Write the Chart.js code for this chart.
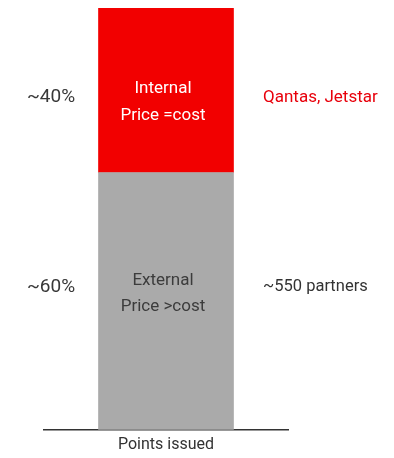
<!DOCTYPE html>
<html>
<head>
<meta charset="utf-8">
<script src="https://cdn.jsdelivr.net/npm/chart.js@4.4.0/dist/chart.umd.min.js"></script>
<style>
  html, body { margin: 0; padding: 0; background: #fff; }
  #wrap { width: 394px; height: 458px; position: relative; }
</style>
</head>
<body>
<div id="wrap"><canvas id="pointsChart"></canvas></div>
<script>
// Share of points issued
const categories = ['Points issued'];
const segmentNames = ['External', 'Internal'];
const externalShare = [61];
const internalShare = [39];
const shareLabels = ['~60%', '~40%'];
const innerLabels = [['External', 'Price >cost'], ['Internal', 'Price =cost']];
const partnerLabels = ['~550 partners', 'Qantas, Jetstar'];

const FONT = 'Roboto, "Noto Sans", sans-serif';

// Draws the text beside and inside each segment
const segmentText = {
    id: 'segmentText',
    afterDatasetsDraw(chart) {
        const ctx = chart.ctx;
        const styles = [
            { inner: '#3c3c3c', side: '#333333', innerDy: [-20, 6], sideDy: -14 },
            { inner: '#ffffff', side: '#e8000b', innerDy: [-2, 25], sideDy: 7 }
        ];
        ctx.save();
        ctx.textBaseline = 'middle';
        chart.data.datasets.forEach(function(ds, i) {
            const bar = chart.getDatasetMeta(i).data[0];
            const midY = (bar.y + bar.base) / 2;
            const s = styles[i];
            // share on the left
            ctx.font = '19px ' + FONT;
            ctx.fillStyle = '#383838';
            ctx.textAlign = 'center';
            ctx.fillText(shareLabels[i], 51, midY + s.sideDy);
            // text inside the bar
            ctx.font = '17px ' + FONT;
            ctx.fillStyle = s.inner;
            innerLabels[i].forEach(function(line, k) {
                ctx.fillText(line, bar.x - 3, midY + s.innerDy[k]);
            });
            // partners on the right
            ctx.font = (i === 1 ? '17px ' : '16.5px ') + FONT;
            ctx.fillStyle = s.side;
            ctx.textAlign = 'left';
            ctx.fillText(partnerLabels[i], 263, midY + s.sideDy);
        });
        ctx.restore();
    }
};

const ctx = document.getElementById('pointsChart').getContext('2d');
const pointsChart = new Chart(ctx, {
    type: 'bar',
    data: {
        labels: categories,
        datasets: [{
            label: segmentNames[0],
            data: externalShare,
            backgroundColor: '#aaaaaa',
            borderWidth: 0
        }, {
            label: segmentNames[1],
            data: internalShare,
            backgroundColor: '#f20000',
            borderWidth: 0
        }]
    },
    options: {
        responsive: true,
        maintainAspectRatio: false,
        animation: false,
        datasets: {
            bar: { barThickness: 135 }
        },
        layout: {
            padding: { left: 44, right: 106, top: 8, bottom: 0 }
        },
        scales: {
            x: {
                stacked: true,
                grid: { display: false, drawTicks: false },
                border: { display: true, color: '#333333', width: 1.5 },
                ticks: { display: false },
                title: {
                    display: true,
                    text: 'Points issued',
                    color: '#333333',
                    font: { family: FONT, size: 16 },
                    padding: { top: 6, bottom: 3 }
                }
            },
            y: {
                stacked: true,
                display: false,
                min: 0,
                max: 100
            }
        },
        plugins: {
            legend: { display: false },
            tooltip: { enabled: false }
        }
    },
    plugins: [segmentText]
});
</script>
</body>
</html>
